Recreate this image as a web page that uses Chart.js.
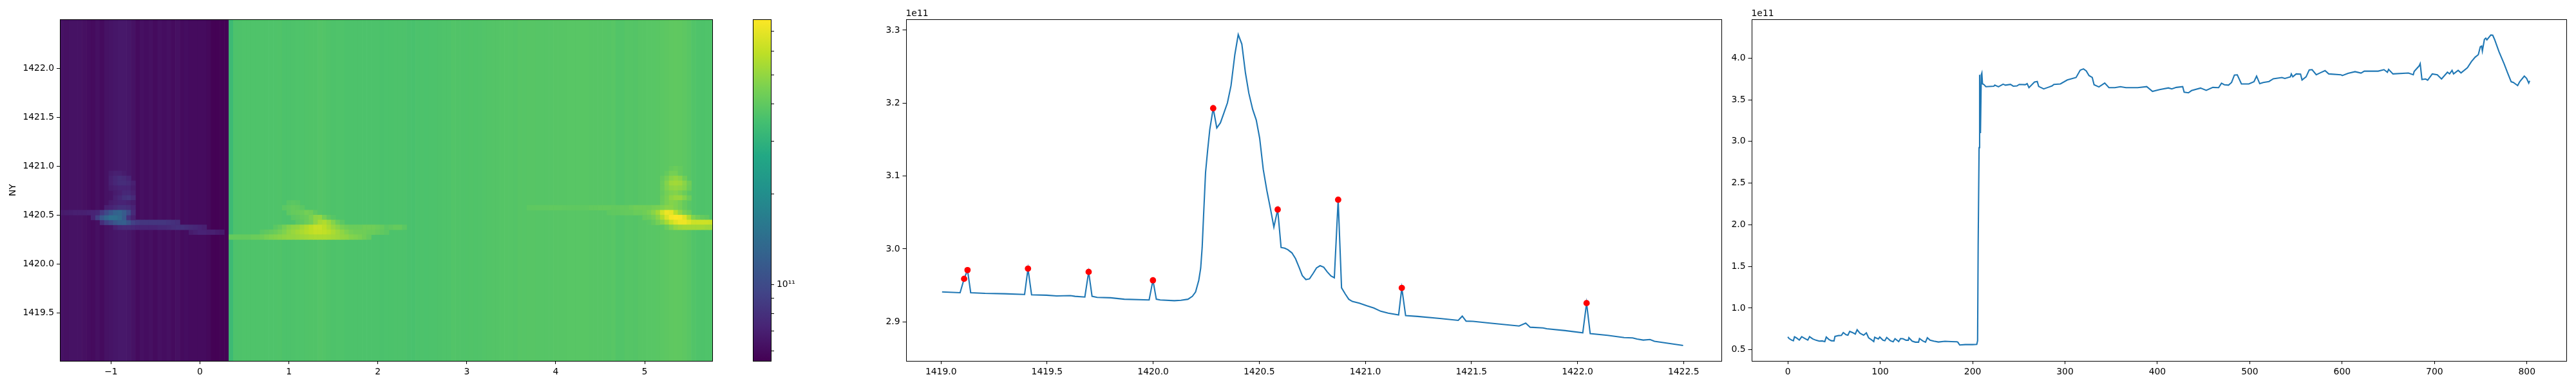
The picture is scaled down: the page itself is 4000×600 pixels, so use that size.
<!DOCTYPE html>
<html>
<head>
<meta charset="utf-8">
<script src="https://cdn.jsdelivr.net/npm/chart.js@4/dist/chart.umd.js"></script>
<style>
  html, body { margin: 0; background: #fff; }
  canvas { position: absolute; left: 0; top: 0; }
</style>
</head>
<body>
<canvas id="heat" width="4000" height="600"></canvas>
<canvas id="cbar" width="4000" height="600"></canvas>
<canvas id="profile" width="4000" height="600"></canvas>
<canvas id="sum" width="4000" height="600"></canvas>
<script>
// all intensities below are in units of 1e11

// heatmap: one value per 0.05 wide column, first column centred on -1.55
const heatFirstX = -1.55;
const heatStep = 0.05;
const heatBase = [
  .63,.62,.63,.63,.63,.62,.61,.60,.62,.60,.63,.64,.65,.66,.66,.65,.63,.60,.62,.61,
  .62,.60,.62,.61,.62,.60,.62,.60,.61,.60,.60,.60,.60,.59,.56,.56,.56,.56,
  3.3,3.65,3.66,3.67,3.67,3.68,3.67,3.67,3.68,3.68,
  3.68,3.70,3.64,3.64,3.66,3.68,3.68,3.70,3.72,3.72,
  3.76,3.74,3.70,3.66,3.68,3.67,3.64,3.65,3.65,3.65,
  3.64,3.65,3.65,3.64,3.60,3.62,3.63,3.64,3.64,3.65,
  3.60,3.58,3.62,3.64,3.62,3.64,3.65,3.66,3.68,3.68,
  3.74,3.72,3.69,3.69,3.72,3.70,3.71,3.73,3.75,3.76,
  3.76,3.78,3.80,3.78,3.77,3.82,3.80,3.83,3.83,3.81,
  3.80,3.80,3.81,3.83,3.83,3.83,3.84,3.84,3.84,3.85,
  3.85,3.82,3.82,3.82,3.82,3.80,3.84,3.74,3.74,3.81,
  3.79,3.76,3.82,3.82,3.84,3.84,3.86,3.90,3.94,3.97,
  4.00,3.98,3.94,3.86,3.74,3.68,3.66,3.68,3.68
];

// brighter stretches of the heatmap: [row bottom, first column centre, values], rows are 0.05 tall
const heatRowHeight = 0.05;
const heatRows = [
  // left blob
  [1420.50, -1.55, [.67,.68,.69,.70,.70,.70,.71,.72,.74,.85,.98,1.12,1.25,1.30,1.18,1.0,.76]],
  [1420.45, -1.20, [.72,.90,1.12,1.30,1.45,1.45,1.35,1.15,.80,.70]],
  [1420.40, -1.10, [.78,.90,1.0,1.12,1.20,1.22,1.08,.92,.86,.84,.84,.84,.84,.84,.84,.82,.80,.78]],
  [1420.35, -.95, [.70,.74,.76,.76,.74,.72,.72,.72,.72,.72,.74,.74,.76,.78,.80,.80,.78,.76,.74,.72,.70]],
  [1420.30, -.10, [.68,.70,.72,.72,.70,.70,.68,.66]],
  [1420.55, -1.05, [.70,.72,.76,.80,.80,.78,.72]],
  [1420.60, -1.00, [.68,.70,.72,.72,.70,.68]],
  [1420.65, -.95, [.70,.74,.80,.82,.76]],
  [1420.70, -.95, [.68,.70,.74,.74,.70]],
  [1420.75, -1.00, [.68,.70,.72,.72,.72,.68]],
  [1420.80, -1.00, [.70,.74,.78,.78,.76,.70]],
  [1420.85, -1.00, [.70,.74,.78,.76,.72]],
  [1420.90, -1.00, [.68,.70,.70,.68]],
  // middle blob
  [1420.25, .35, [4.1,4.1,4.1,4.1,4.1,4.2,4.2,4.3,4.5,4.6,4.7,4.8,4.9,5,5,5.1,5.2,5.3,5.4,5.5,5.5,5.5,5.4,5.3,5.2,5,4.9,4.7,4.6,4.5,4.3,4.1]],
  [1420.30, .70, [3.9,4,4.1,4.2,4.4,4.6,4.9,5.1,5.3,5.5,5.7,5.9,6.1,6.1,6,5.8,5.5,5.2,4.9,4.6,4.4,4.3,4.3,4.3,4.2,4.2,4.1,4,3.9]],
  [1420.35, .85, [3.9,4.1,4.4,4.7,4.9,5,5.3,5.6,5.9,6.2,6.2,5.9,5.5,5.1,4.8,4.5,4.3,4.2,4.2,4.2,4.3,4.3,4.3,4.2,4.1,3.9,4,4.1,4.1,3.9]],
  [1420.40, 1.10, [3.9,4,4.2,4.4,4.9,5.4,5.6,5.2,4.7,4.2,3.9]],
  [1420.45, 1.05, [3.9,4,4.1,4.2,4.5,4.9,5,4.4,4,3.8]],
  [1420.50, 1.00, [3.95,4.1,4.15,4.2,4.4,4.3,4,3.8]],
  [1420.55, .95, [3.9,4,4.1,4.05,3.9]],
  [1420.60, 1.00, [3.85,3.9,3.85]],
  // right blob
  [1420.35, 5.20, [3.9,4.2,4.6,5,5.2,5.3,5.3,5.3,5.3,5.3,5.2,5.2]],
  [1420.40, 5.05, [3.9,4.1,4.4,4.8,5.4,6.2,6.8,7.2,7.2,6.8,6.3,6.3,6.3,6.3,6.2,6.2]],
  [1420.45, 5.00, [4.1,4.2,4.4,4.8,5.6,6.6,7.4,7.6,7.5,6.8,5.6,4.6,4.3,4.1,4]],
  [1420.50, 4.60, [3.95,4,4,4.05,4.1,4.1,4.2,4.2,4.3,4.5,4.8,5.3,6.4,7.2,7.0,5.8,5,4.5,4.2]],
  [1420.55, 3.70, [3.95,3.98,4,4,4,4.02,4.02,4.02,4,4,3.98,3.98,3.98,4,4.05,4.05,4.1,4.1,4.1,4.05,4.05,4.1,4.1,4.2,4.3,4.3,4.3,4.3,4.4,4.5,4.6,4.8,4.8,4.6,4.4,4.1]],
  [1420.60, 5.20, [4.2,4.5,4.7,4.6,4.4,4.1]],
  [1420.65, 5.20, [4.2,4.5,4.9,5.1,5.1,4.7,4.2]],
  [1420.70, 5.20, [4.1,4.4,4.6,4.7,4.5,4.2]],
  [1420.75, 5.20, [4.2,4.6,4.9,5,4.9,4.7,4.2]],
  [1420.80, 5.20, [4.2,4.7,5.2,5.3,5.2,4.8,4.3]],
  [1420.85, 5.20, [4.1,4.4,4.8,5,4.8,4.3]],
  [1420.90, 5.25, [4.1,4.4,4.4,4.1]],
  [1420.95, 5.30, [4.1,4.2,4.1]]
];
const heatXTicks = [-1, 0, 1, 2, 3, 4, 5];
const heatYTicks = [1419.5, 1420, 1420.5, 1421, 1421.5, 1422];

// colour bar
const normMin = 0.556;
const normMax = 7.66;
const cbarTicks = [0.6, 0.7, 0.8, 0.9, 1, 2, 3, 4, 5, 6, 7];
const viridis = ['#440154','#482475','#414487','#355f8d','#2a788e','#21918c','#22a884','#44bf70','#7ad151','#bddf26','#fde725'];

// profile along NY, with the detected peaks
const profileX = [
  1419.005,1419.09,1419.109,1419.125,1419.14,1419.208,1419.30,1419.394,1419.41,1419.427,1419.498,1419.545,1419.61,1419.632,1419.678,1419.696,1419.712,1419.736,1419.80,1419.864,
  1419.981,1419.999,1420.015,1420.033,1420.10,1420.131,1420.164,1420.185,1420.20,1420.215,1420.224,1420.231,1420.238,1420.247,1420.257,1420.267,1420.283,1420.30,1420.317,1420.334,
  1420.35,1420.367,1420.385,1420.401,1420.418,1420.435,1420.451,1420.469,1420.486,1420.502,1420.519,1420.536,1420.553,1420.569,1420.587,1420.603,1420.62,1420.635,1420.654,1420.671,
  1420.688,1420.703,1420.72,1420.737,1420.754,1420.77,1420.787,1420.804,1420.82,1420.838,1420.854,1420.872,1420.888,1420.906,1420.922,1420.939,1420.972,1421.007,1421.04,1421.073,
  1421.108,1421.157,1421.172,1421.19,1421.247,1421.351,1421.438,1421.457,1421.475,1421.508,1421.595,1421.725,1421.756,1421.777,1421.838,1421.855,1421.942,1422.025,1422.043,1422.06,
  1422.142,1422.22,1422.26,1422.281,1422.31,1422.342,1422.363,1422.498
];
const profileY = [
  2.941,2.940,2.959,2.971,2.940,2.939,2.9385,2.9375,2.973,2.937,2.9365,2.9355,2.936,2.935,2.934,2.9685,2.935,2.9335,2.933,2.931,
  2.930,2.957,2.931,2.930,2.929,2.9295,2.931,2.935,2.941,2.957,2.9735,3.002,3.048,3.105,3.136,3.164,3.193,3.166,3.173,3.187,
  3.2003,3.224,3.2665,3.294,3.281,3.2415,3.2136,3.1915,3.1768,3.152,3.109,3.080,3.055,3.030,3.054,3.002,3.001,2.999,2.9946,2.9867,
  2.9746,2.9634,2.958,2.959,2.9664,2.974,2.977,2.975,2.9687,2.963,2.9605,3.0675,2.9467,2.938,2.931,2.928,2.9255,2.922,2.919,2.9145,
  2.912,2.9095,2.9465,2.9085,2.9074,2.9047,2.902,2.9078,2.901,2.9007,2.898,2.8943,2.8983,2.8926,2.8916,2.8905,2.888,2.885,2.9257,2.8838,
  2.8815,2.8784,2.878,2.8764,2.875,2.8757,2.8733,2.8676
];
const peakX = [1419.109,1419.125,1419.41,1419.696,1419.999,1420.283,1420.587,1420.872,1421.172,1422.043];
const peakY = [2.959,2.971,2.973,2.9685,2.957,3.193,3.054,3.0675,2.9465,2.9257];
const profileXTicks = [1419, 1419.5, 1420, 1420.5, 1421, 1421.5, 1422, 1422.5];
const profileYTicks = [2.9, 3.0, 3.1, 3.2, 3.3];

// profile along the slit index
const sumX = [
  0,1.4,4.4,6,7.2,9,12.4,15,19,21.6,23.5,27,30.5,34,37,40,41.6,44.4,47,50,
  51,55,58,60,63,65,67,70,73,75,78,82,85,87.4,91,93,94,98,99.5,103,
  105,107,111,114,116,120,122,124.6,128,130.4,131,134.6,138,141.5,142.5,146,149,151,154,158,
  163,170,177,183,184,186,192,200,204.5,205.4,206,207,207.6,208.5,209.4,210,210.7,212,214.4,223,
  224,228,233,235.6,241,244,248,250.5,257,259,261,267,270,271.5,277,282,286,288,295,302.5,
  312,316.5,320,323,326,329.5,331.5,336.7,343,347.6,354,360,366,378.7,388.5,394.7,402.5,412,415.6,420.5,
  427.4,429,433.6,437,446.7,452.9,460,466.3,469.4,472.5,477,480.3,483.4,486.5,491,499,504.6,507.4,510.8,514.6,
  520.8,525.5,534.8,538,544,545,546.6,550.3,555,556.6,561,564.4,567.5,572,576.8,581.5,585.5,598.6,600.2,606.4,
  614,620.4,624,639,645.3,649,650.3,655,671.8,677,678,683.3,684.5,686.4,690.4,692.6,697.6,703,707.6,714,
  716.3,719,720.6,725.6,728.7,735.6,740,744,747.4,749.6,751,751.8,754,755.5,756.7,761,763,765,769.8,775.4,
  779,783,785.4,790,792.2,797.2,799.7,802,803
];
const sumY = [
  .656,.635,.615,.609,.656,.645,.617,.658,.633,.617,.658,.63,.615,.604,.607,.599,.653,.625,.609,.607,
  .661,.671,.674,.707,.681,.676,.722,.707,.689,.741,.699,.676,.704,.645,.617,.599,.65,.63,.653,.615,
  .609,.648,.609,.597,.633,.599,.635,.633,.615,.615,.645,.604,.592,.592,.635,.607,.592,.645,.615,.604,
  .594,.602,.599,.597,.592,.558,.563,.563,.565,.609,1.745,2.925,3.80,3.10,3.80,3.82,3.69,3.685,3.657,3.663,
  3.675,3.655,3.687,3.675,3.684,3.663,3.666,3.684,3.681,3.693,3.645,3.713,3.719,3.66,3.63,3.65,3.666,3.684,3.69,3.737,
  3.767,3.855,3.87,3.846,3.79,3.767,3.68,3.654,3.70,3.645,3.645,3.657,3.645,3.645,3.657,3.60,3.622,3.642,3.63,3.648,
  3.657,3.59,3.583,3.61,3.64,3.613,3.648,3.645,3.698,3.68,3.675,3.707,3.796,3.799,3.69,3.69,3.716,3.784,3.693,3.707,
  3.719,3.752,3.766,3.755,3.775,3.81,3.775,3.81,3.807,3.737,3.775,3.858,3.861,3.80,3.825,3.849,3.81,3.80,3.79,3.817,
  3.837,3.82,3.843,3.843,3.861,3.83,3.864,3.81,3.82,3.80,3.84,3.905,3.934,3.743,3.749,3.734,3.81,3.80,3.75,3.83,
  3.81,3.852,3.81,3.852,3.822,3.884,3.958,4.011,4.041,4.135,4.144,4.085,4.224,4.239,4.218,4.277,4.274,4.224,4.076,3.929,
  3.825,3.716,3.707,3.67,3.716,3.784,3.757,3.70,3.727
];
const sumXTicks = [0, 100, 200, 300, 400, 500, 600, 700, 800];
const sumYTicks = [0.5, 1, 1.5, 2, 2.5, 3, 3.5, 4];

const fontSpec = { family: '"DejaVu Sans"', size: 13.9 };
Chart.defaults.font.family = fontSpec.family;
Chart.defaults.font.size = fontSpec.size;
Chart.defaults.color = '#000';
Chart.defaults.animation = false;
Chart.defaults.responsive = false;

function hexToRgb(hex) {
    return [1, 3, 5].map(i => parseInt(hex.substr(i, 2), 16));
}

// log norm then viridis, same as the colour bar
function colorFor(v) {
    let pos = Math.log(v / normMin) / Math.log(normMax / normMin);
    pos = Math.min(1, Math.max(0, pos)) * (viridis.length - 1);
    const i = Math.min(viridis.length - 2, Math.floor(pos));
    const a = hexToRgb(viridis[i]);
    const b = hexToRgb(viridis[i + 1]);
    const t = pos - i;
    return 'rgb(' + a.map((c, k) => Math.round(c + (b[k] - c) * t)).join(',') + ')';
}

function pairs(xs, ys) {
    return xs.map((x, i) => ({ x: x, y: ys[i] }));
}

// black frame plus the "1e11" offset text
const framePlugin = {
    id: 'frame',
    afterDraw(chart, args, opts) {
        const { ctx, chartArea: a } = chart;
        ctx.save();
        ctx.strokeStyle = '#000';
        ctx.lineWidth = 1;
        const l = Math.round(a.left) + 0.5;
        const t = Math.round(a.top) + 0.5;
        ctx.strokeRect(l, t, Math.round(a.right) - Math.round(a.left), Math.round(a.bottom) - Math.round(a.top));
        if (opts.offsetText) {
            ctx.fillStyle = '#000';
            ctx.font = fontSpec.size + 'px ' + fontSpec.family;
            ctx.textAlign = 'left';
            ctx.textBaseline = 'alphabetic';
            ctx.fillText(opts.offsetText, a.left, a.top - 5);
        }
        ctx.restore();
    }
};
Chart.register(framePlugin);

function axis(min, max, ticks, format, size, extra) {
    return Object.assign({
        type: 'linear',
        min: min,
        max: max,
        offset: false,
        grid: { offset: false, drawOnChartArea: false, drawTicks: true, tickLength: 5, tickColor: '#000', tickWidth: 1 },
        border: { display: false },
        ticks: { autoSkip: false, maxRotation: 0, padding: 4, callback: format },
        afterBuildTicks: s => { s.ticks = ticks.map(v => ({ value: v })); },
        afterFit: s => { if (s.isHorizontal()) s.height = size; else s.width = size; }
    }, extra);
}

function padding(rect, yWidth, xHeight) {
    return { left: rect.l - yWidth, right: 4000 - rect.r, top: rect.t, bottom: 600 - rect.b - xHeight };
}

const noExtras = { legend: { display: false }, tooltip: { enabled: false } };

// heatmap as floating bars, base columns first and the bright rows over them
const colX = heatBase.map((v, i) => heatFirstX + i * heatStep);
const heatDatasets = [{
    order: 1,
    data: colX.map(x => ({ x: x, y: [1419, 1422.5] })),
    backgroundColor: heatBase.map(colorFor)
}];
heatRows.forEach(row => {
    const first = Math.round((row[1] - heatFirstX) / heatStep);
    const cols = row[2].map((v, i) => first + i).filter(c => c < colX.length);
    heatDatasets.push({
        order: 0,
        data: cols.map(c => ({ x: colX[c], y: [row[0], row[0] + heatRowHeight] })),
        backgroundColor: cols.map(c => colorFor(Math.max(heatBase[c], row[2][c - first])))
    });
});

const heatRect = { l: 93, r: 1106, t: 30, b: 561 };
new Chart(document.getElementById('heat'), {
    type: 'bar',
    data: { datasets: heatDatasets },
    options: {
        layout: { padding: padding(heatRect, 85, 36) },
        datasets: { bar: { grouped: false, barPercentage: 1, categoryPercentage: 1, borderWidth: 0 } },
        plugins: Object.assign({ frame: {} }, noExtras),
        scales: {
            x: axis(-1.575, 5.76, heatXTicks, v => String(v).replace('-', '\u2212'), 36),
            y: axis(1419.01, 1422.5, heatYTicks, v => v.toFixed(1), 85, {
                title: { display: true, text: 'NY', font: fontSpec, padding: { top: 4, bottom: 4 } }
            })
        }
    }
});

// colour bar on its own log axis
const cbarRect = { l: 1169, r: 1197, t: 30, b: 561 };
const cbarOpts = axis(normMin, normMax, cbarTicks, v => (v === 1 ? '10\u00b9\u00b9' : ''), 50, { type: 'logarithmic', position: 'right' });
new Chart(document.getElementById('cbar'), {
    type: 'bar',
    data: {
        labels: [''],
        datasets: [{
            data: [[normMin, normMax]],
            barPercentage: 1,
            categoryPercentage: 1,
            backgroundColor: c => {
                const a = c.chart.chartArea;
                if (!a) return '#000';
                const g = c.chart.ctx.createLinearGradient(0, a.bottom, 0, a.top);
                viridis.forEach((col, i) => g.addColorStop(i / (viridis.length - 1), col));
                return g;
            }
        }]
    },
    options: {
        layout: { padding: { left: cbarRect.l, right: 4000 - cbarRect.r - 50, top: cbarRect.t, bottom: 600 - cbarRect.b } },
        plugins: Object.assign({ frame: {} }, noExtras),
        scales: {
            x: { display: false },
            y: cbarOpts
        }
    }
});

function lineChart(id, rect, xs, ys, xAxis, yAxis, peaks) {
    const datasets = [{
        order: 1,
        data: pairs(xs, ys),
        borderColor: '#1f77b4',
        borderWidth: 2.08,
        pointRadius: 0,
        tension: 0
    }];
    if (peaks) {
        datasets.push({
            order: 0,
            data: peaks,
            showLine: false,
            pointRadius: 4.9,
            pointBorderWidth: 0,
            pointBackgroundColor: '#ff0000'
        });
    }
    new Chart(document.getElementById(id), {
        type: 'line',
        data: { datasets: datasets },
        options: {
            layout: { padding: padding(rect, 60, 36) },
            plugins: Object.assign({ frame: { offsetText: '1e11' } }, noExtras),
            scales: { x: xAxis, y: yAxis }
        }
    });
}

lineChart('profile', { l: 1406.5, r: 2672.5, t: 30, b: 561 }, profileX, profileY,
    axis(1418.834, 1422.677, profileXTicks, v => v.toFixed(1), 36),
    axis(2.8464, 3.315, profileYTicks, v => v.toFixed(1), 60),
    pairs(peakX, peakY));

lineChart('sum', { l: 2719.5, r: 3985, t: 30, b: 561 }, sumX, sumY,
    axis(-39.5, 842.7, sumXTicks, v => String(v), 36),
    axis(0.367, 4.465, sumYTicks, v => v.toFixed(1), 60),
    null);
</script>
</body>
</html>
